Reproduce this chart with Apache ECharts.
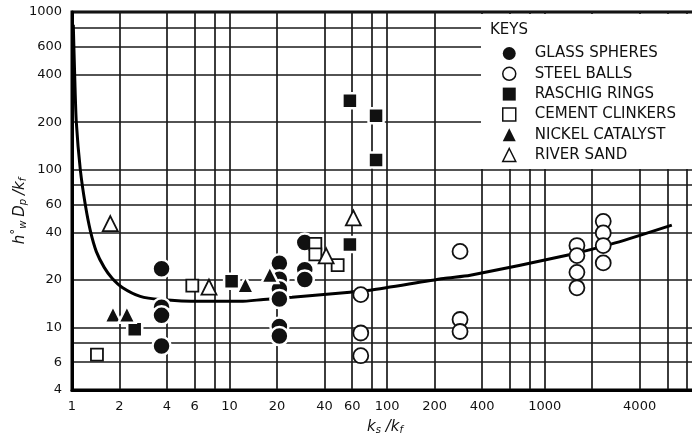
<!DOCTYPE html>
<html>
<head>
<meta charset="utf-8">
<script src="https://cdn.jsdelivr.net/npm/echarts@6/dist/echarts.min.js"></script>
<style>
html,body{margin:0;padding:0;background:#fff;}
#chart{width:692px;height:439px;}
</style>
</head>
<body>
<div id="chart"></div>
<script>
const xTickLabels = [1, 2, 4, 6, 10, 20, 40, 60, 100, 200, 400, 1000, 4000];
const xGridValues = [1, 2, 4, 6, 8, 10, 20, 40, 60, 80, 100, 200, 400, 600, 800, 1000, 2000, 4000, 6000, 8000];
const yTickLabels = [4, 6, 10, 20, 40, 60, 100, 200, 400, 600, 1000];
const yGridValues = [4, 6, 8, 10, 20, 40, 60, 80, 100, 200, 400, 600, 800, 1000];

const legendNames = ['GLASS SPHERES', 'STEEL BALLS', 'RASCHIG RINGS', 'CEMENT CLINKERS', 'NICKEL CATALYST', 'RIVER SAND'];

const glassX = [3.7, 3.7, 3.7, 3.7, 20.7, 20.7, 20.7, 20.7, 20.7, 20.7, 30, 30, 30];
const glassY = [23.5, 13.4, 11.9, 7.6, 25.5, 20.2, 17.5, 15.1, 10.1, 8.8, 34.5, 23.2, 20.1];

const steelX = [68, 68, 68, 290, 290, 290, 1600, 1600, 1600, 1600, 2350, 2350, 2350, 2350];
const steelY = [16.1, 9.2, 6.6, 30.3, 11.2, 9.4, 33, 28.5, 22.3, 17.8, 47, 39.7, 33, 25.6];

const raschigX = [2.5, 10.3, 58, 58, 85, 85];
const raschigY = [9.7, 19.6, 33.5, 274, 220, 115];

const cementX = [1.44, 5.8, 35, 35, 48.5];
const cementY = [6.7, 18.4, 33.8, 29, 24.8];

const nickelX = [1.82, 2.23, 12.6, 18];
const nickelY = [12.1, 12.1, 18.6, 21.6];

const sandX = [1.75, 7.4, 41, 61];
const sandY = [45.5, 18.0, 28.4, 49.4];

const curveX = [1.019, 1.042, 1.065, 1.129, 1.214, 1.307, 1.427, 1.604, 1.802, 2.085, 2.71, 3.64, 6.5, 11.7, 16.4, 24.9, 58, 78, 228, 337, 1383, 2800, 6400];
const curveY = [830, 372, 200, 100, 60, 41, 30.2, 23.9, 20.4, 17.9, 15.7, 15.0, 14.6, 14.6, 15.0, 15.5, 16.7, 17.2, 20.4, 21.4, 28.6, 34.3, 44.5];

// ---- build ----
const L = Math.log10;
const pts = (xs, ys) => xs.map((x, i) => [L(x), L(ys[i])]);
const FONT = 'DejaVu Sans';
const INK = '#111';

const chart = echarts.init(document.getElementById('chart'), null, {renderer: 'canvas'});

const filled = (name, symbol, size, xs, ys) => ({
  name, type: 'scatter', symbol, symbolSize: size, data: pts(xs, ys), z: 4,
  itemStyle: {color: INK, borderColor: '#fff', borderWidth: 2.5, opacity: 1}
});
const hollow = (name, symbol, size, xs, ys) => ({
  name, type: 'scatter', symbol, symbolSize: size, data: pts(xs, ys), z: 4,
  itemStyle: {color: '#fff', borderColor: INK, borderWidth: 1.8, opacity: 1}
});
const isFilled = [true, false, true, false, true, false];

const option = {
  backgroundColor: '#fff',
  animation: false,
  textStyle: {fontFamily: FONT},
  grid: {left: 72, right: -2, top: 12, bottom: 49, outerBoundsMode: 'none', containLabel: false,
         show: true, borderColor: '#000', borderWidth: 3, backgroundColor: 'transparent'},
  xAxis: {
    type: 'value', min: 0, max: 3.947,
    axisLine: {show: true, lineStyle: {color: '#000', width: 3}},
    axisTick: {show: false, customValues: xGridValues.map(L)},
    splitLine: {show: true, lineStyle: {color: '#1a1a1a', width: 1.7}},
    axisLabel: {
      customValues: xTickLabels.map(L), margin: 10,
      color: INK, fontSize: 13, fontFamily: FONT,
      formatter: v => String(Math.round(Math.pow(10, v)))
    },
    name: '{i|k}{b|s}{i| /k}{b|f}', nameLocation: 'middle', nameGap: 27, nameMoveOverlap: false,
    nameTextStyle: {
      color: INK, padding: [0, 0, 0, 4],
      rich: {
        i: {fontStyle: 'italic', fontSize: 15, fontFamily: FONT, color: INK, verticalAlign: 'bottom', lineHeight: 18},
        b: {fontStyle: 'italic', fontSize: 10, fontFamily: FONT, color: INK, verticalAlign: 'bottom', lineHeight: 14}
      }
    }
  },
  yAxis: {
    type: 'value', min: L(4), max: 3,
    axisLine: {show: true, lineStyle: {color: '#000', width: 3}},
    axisTick: {show: false, customValues: yGridValues.map(L)},
    splitLine: {show: true, lineStyle: {color: '#1a1a1a', width: 1.7}},
    axisLabel: {
      customValues: yTickLabels.map(L), margin: 10,
      color: INK, fontSize: 13, fontFamily: FONT,
      formatter: v => String(Math.round(Math.pow(10, v)))
    },
    name: '{i|h}{s|°}{b|w} {i|D}{b|p} {i|/k}{b|f}', nameLocation: 'middle', nameGap: 44, nameRotate: 90,
    nameMoveOverlap: false,
    nameTextStyle: {
      color: INK, padding: [0, 20, 0, 0],
      rich: {
        i: {fontStyle: 'italic', fontSize: 15, fontFamily: FONT, color: INK, verticalAlign: 'bottom', lineHeight: 18},
        b: {fontStyle: 'italic', fontSize: 10, fontFamily: FONT, color: INK, verticalAlign: 'bottom', lineHeight: 14},
        s: {fontSize: 12, fontFamily: FONT, color: INK, verticalAlign: 'top', lineHeight: 18}
      }
    }
  },
  legend: {
    orient: 'vertical', left: 502, top: 46, padding: 0,
    itemWidth: 13, itemHeight: 13, itemGap: 5.3, z: 6,
    data: legendNames.map((n, i) => ({
      name: n,
      itemStyle: isFilled[i] ? {borderWidth: 0} : {borderWidth: 1.5}
    })),
    textStyle: {fontFamily: FONT, fontSize: 15, color: INK, lineHeight: 13, padding: [0, 0, 0, 14]},
    selectedMode: false
  },
  graphic: [
    {type: 'rect', left: 481, top: 14, shape: {width: 215, height: 155}, style: {fill: '#fff'}, z: 3, silent: true},
    {type: 'text', left: 490, top: 23, style: {text: 'KEYS', font: '15px "DejaVu Sans"', fill: INK}, z: 6, silent: true}
  ],
  series: [
    {
      name: 'curve', type: 'line', data: pts(curveX, curveY), showSymbol: false, symbol: 'none',
      smooth: 0.25, lineStyle: {color: '#000', width: 3}, z: 3, silent: true
    },
    filled(legendNames[0], 'circle', 18, glassX, glassY),
    hollow(legendNames[1], 'circle', 15, steelX, steelY),
    filled(legendNames[2], 'rect', 15, raschigX, raschigY),
    hollow(legendNames[3], 'rect', 12, cementX, cementY),
    filled(legendNames[4], 'triangle', 17, nickelX, nickelY),
    hollow(legendNames[5], 'triangle', 15, sandX, sandY)
  ]
};
chart.setOption(option);
</script>
</body>
</html>
